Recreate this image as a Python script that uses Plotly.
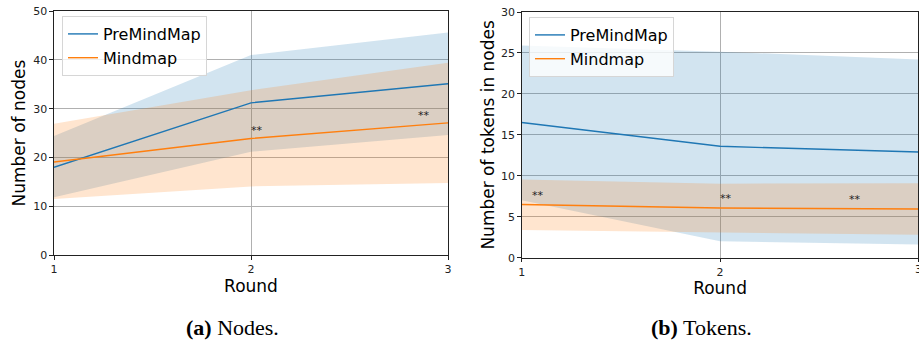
import plotly.graph_objects as go

# Rounds on the x axis
rounds = [1, 2, 3]

# (a) Number of nodes: mean and band per method
nodes_pre_mean = [18.0, 31.2, 35.1]
nodes_pre_upper = [24.4, 41.0, 45.6]
nodes_pre_lower = [11.9, 21.2, 24.6]
nodes_mm_mean = [19.1, 23.9, 27.1]
nodes_mm_upper = [26.9, 33.8, 39.4]
nodes_mm_lower = [11.5, 14.1, 14.8]

# (b) Number of tokens in nodes: mean and band per method
tok_pre_mean = [16.5, 13.6, 12.9]
tok_pre_upper = [25.9, 25.15, 24.2]
tok_pre_lower = [7.0, 2.0, 1.6]
tok_mm_mean = [6.5, 6.06, 5.94]
tok_mm_upper = [9.56, 9.04, 9.08]
tok_mm_lower = [3.38, 3.13, 2.8]

# significance markers (x, y)
nodes_sig_x = [2.03, 2.88]
nodes_sig_y = [25.5, 28.7]
tok_sig_x = [1.08, 2.03, 2.68]
tok_sig_y = [7.65, 7.24, 7.1]

series_names = ["PreMindMap", "Mindmap"]
line_colors = ["#1f77b4", "#ff7f0e"]
band_colors = ["rgba(31,119,180,0.2)", "rgba(255,127,14,0.2)"]

FONT = "DejaVu Sans"

fig = go.Figure()


def add_panel(xa, ya, legend, means, uppers, lowers):
    # shaded bands first
    for up, lo, bc in zip(uppers, lowers, band_colors):
        fig.add_trace(go.Scatter(x=rounds, y=up, mode="lines", line=dict(width=0),
                                 hoverinfo="skip", showlegend=False, xaxis=xa, yaxis=ya))
        fig.add_trace(go.Scatter(x=rounds, y=lo, mode="lines", line=dict(width=0),
                                 fill="tonexty", fillcolor=bc, hoverinfo="skip",
                                 showlegend=False, xaxis=xa, yaxis=ya))
    # mean lines
    for m, name, lc in zip(means, series_names, line_colors):
        fig.add_trace(go.Scatter(x=rounds, y=m, mode="lines", name=name,
                                 line=dict(color=lc, width=1.4), legend=legend,
                                 xaxis=xa, yaxis=ya))


add_panel("x", "y", "legend", [nodes_pre_mean, nodes_mm_mean],
          [nodes_pre_upper, nodes_mm_upper], [nodes_pre_lower, nodes_mm_lower])
add_panel("x2", "y2", "legend2", [tok_pre_mean, tok_mm_mean],
          [tok_pre_upper, tok_mm_upper], [tok_pre_lower, tok_mm_lower])

# significance stars
for sx, sy in zip(nodes_sig_x, nodes_sig_y):
    fig.add_annotation(x=sx, y=sy, xref="x", yref="y", text="**", showarrow=False,
                       font=dict(family=FONT, size=11, color="#222"))
for sx, sy in zip(tok_sig_x, tok_sig_y):
    fig.add_annotation(x=sx, y=sy, xref="x2", yref="y2", text="**", showarrow=False,
                       font=dict(family=FONT, size=11, color="#222"))

# last x tick label of the right panel sits on the page edge
fig.add_annotation(x=rounds[-1], y=0, xref="x2", yref="y2", text=str(rounds[-1]),
                   showarrow=False, xanchor="center", yanchor="top", yshift=-3,
                   font=dict(family=FONT, size=11, color="#222"))

# sub-captions
cap_font = dict(family="Liberation Serif", size=22, color="black")
fig.add_annotation(x=232 / 919, y=1 - 327 / 346, xref="paper", yref="paper",
                   xanchor="center", yanchor="middle",
                   text="<b>(a)</b> Nodes.", showarrow=False, font=cap_font)
fig.add_annotation(x=701 / 919, y=1 - 327 / 346, xref="paper", yref="paper",
                   xanchor="center", yanchor="middle",
                   text="<b>(b)</b> Tokens.", showarrow=False, font=cap_font)

axis_common = dict(showline=True, linecolor="#222", linewidth=1.2, mirror=True,
                   ticks="outside", ticklen=3.5, tickcolor="#222",
                   tickfont=dict(family=FONT, size=11, color="#222"),
                   showgrid=True, gridcolor="#b0b0b0", gridwidth=1, zeroline=False,
                   automargin=False)
title_font = dict(family=FONT, size=17, color="black")

fig.update_layout(
    width=919, height=346,
    margin=dict(l=0, r=0, t=0, b=0, autoexpand=False),
    paper_bgcolor="white", plot_bgcolor="white",
    xaxis=dict(domain=[54 / 919, 448 / 919], range=[1, 3], tickvals=rounds,
               title=dict(text="Round", font=title_font, standoff=3),
               anchor="y", **axis_common),
    yaxis=dict(domain=[1 - 255.3 / 346, 1 - 11 / 346], range=[0, 50], dtick=10,
               title=dict(text="Number of nodes", font=title_font, standoff=3),
               anchor="x", **axis_common),
    xaxis2=dict(domain=[521.7 / 919, 918.4 / 919], range=[1, 3], tickvals=rounds,
                title=dict(text="Round", font=title_font, standoff=3),
                anchor="y2", **axis_common),
    yaxis2=dict(domain=[1 - 257.7 / 346, 1 - 12 / 346], range=[0, 30], dtick=5,
                title=dict(text="Number of tokens in nodes", font=title_font, standoff=1),
                anchor="x2", **axis_common),
    legend=dict(x=62 / 919, y=1 - 16 / 346, xanchor="left", yanchor="top",
                traceorder="normal",
                bgcolor="rgba(255,255,255,0.8)", bordercolor="#d6d6d6", borderwidth=1,
                font=dict(family=FONT, size=16, color="black")),
    legend2=dict(x=529 / 919, y=1 - 17 / 346, xanchor="left", yanchor="top",
                 traceorder="normal",
                 bgcolor="rgba(255,255,255,0.8)", bordercolor="#d6d6d6", borderwidth=1,
                 font=dict(family=FONT, size=16, color="black")),
)

fig.write_html("out.html")
